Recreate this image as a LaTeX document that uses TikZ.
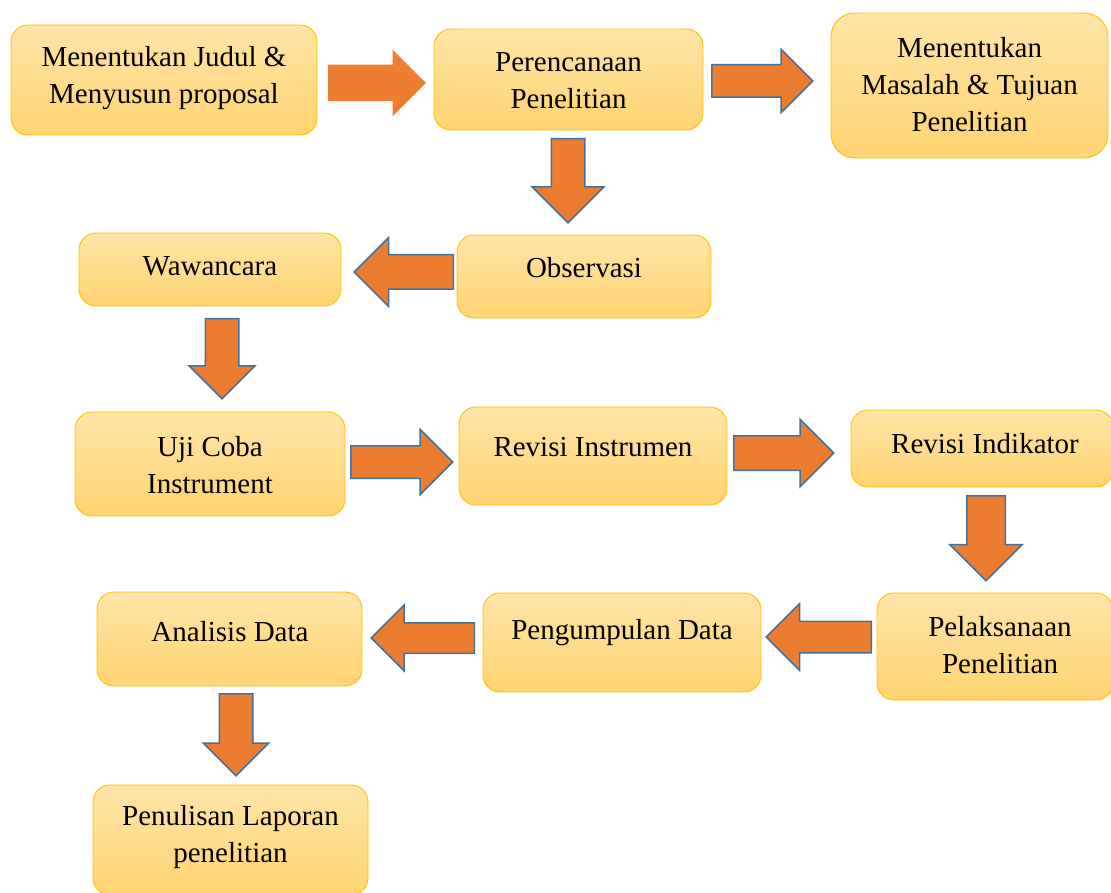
\documentclass[tikz,border=0pt]{standalone}
\usepackage{fontspec}
\setmainfont{Liberation Serif}
\usetikzlibrary{shapes.arrows}

\definecolor{boxline}{RGB}{255,192,0}
\definecolor{boxtop}{RGB}{255,229,168}
\definecolor{boxbot}{RGB}{255,211,112}
\definecolor{arrfill}{RGB}{237,125,49}
\definecolor{arrline}{RGB}{65,113,156}

\tikzset{
  stepbox/.style={draw=boxline, line width=0.9pt, rounded corners=17pt,
    top color=boxtop, bottom color=boxbot, inner sep=0pt},
  steptext/.style={align=center, inner sep=0pt,
    font=\fontsize{29}{37}\selectfont},
  blockarrow/.style={single arrow, fill=arrfill, draw=arrline,
    line width=1.5pt, inner xsep=0pt, anchor=tail}
}

\begin{document}
\begin{tikzpicture}[x=1pt, y=-1pt]
                \useasboundingbox (0,0) rectangle (1111,893);
                % kotak tahapan
                \node[stepbox, minimum width=306pt, minimum height=110pt] (judul) at (164,80) {};
                \node[stepbox, minimum width=269pt, minimum height=101pt] (rencana) at (568.5,79.5) {};
                \node[stepbox, minimum width=277pt, minimum height=145pt, rounded corners=24pt] (masalah) at (969.5,85.5) {};
                \node[stepbox, minimum width=254pt, minimum height=83pt] (observasi) at (584,276.5) {};
                \node[stepbox, minimum width=262pt, minimum height=73pt] (wawancara) at (210,269.5) {};
                \node[stepbox, minimum width=270pt, minimum height=104pt] (ujicoba) at (210,464) {};
                \node[stepbox, minimum width=268pt, minimum height=98pt] (revinst) at (593,456) {};
                \node[stepbox, minimum width=262pt, minimum height=77pt] (revind) at (982,448.5) {};
                \node[stepbox, minimum width=236pt, minimum height=107pt] (pelaksanaan) at (995,646.5) {};
                \node[stepbox, minimum width=278pt, minimum height=99pt] (pengumpulan) at (622,642.5) {};
                \node[stepbox, minimum width=265pt, minimum height=94pt] (analisis) at (229.5,639) {};
                \node[stepbox, minimum width=275pt, minimum height=110pt] (penulisan) at (230.5,840) {};
                % teks
                \node[steptext] (judul-t) at (164,78) {Menentukan Judul \&\\Menyusun proposal};
                \node[steptext] (rencana-t) at (568.5,81) {Perencanaan\\Penelitian};
                \node[steptext] (masalah-t) at (969.5,85) {Menentukan\\Masalah \& Tujuan\\Penelitian};
                \node[steptext] (observasi-t) at (584,268) {Observasi};
                \node[steptext] (wawancara-t) at (210,266) {Wawancara};
                \node[steptext] (ujicoba-t) at (210,465) {Uji Coba\\Instrument};
                \node[steptext] (revinst-t) at (593,447) {Revisi Instrumen};
                \node[steptext] (revind-t) at (985,444) {Revisi Indikator};
                \node[steptext] (pelaksanaan-t) at (1000,645) {Pelaksanaan\\Penelitian};
                \node[steptext] (pengumpulan-t) at (622,633) {Pengumpulan Data};
                \node[steptext] (analisis-t) at (230,632) {Analisis Data};
                \node[steptext] (penulisan-t) at (230.5,837) {Penulisan Laporan\\penelitian};
                % panah blok (dipasang dari ekornya)
                \node[blockarrow, draw=none, minimum height=98pt, inner ysep=17.5pt, single arrow head extend=15pt] (a1) at (327,83) {};
                \node[blockarrow, minimum height=101pt, inner ysep=15.5pt, single arrow head extend=15.5pt] (a2) at (711,81) {};
                \node[blockarrow, rotate=-90, minimum height=84pt, inner ysep=16pt, single arrow head extend=19pt] (a3) at (568,138) {};
                \node[blockarrow, rotate=180, minimum height=99pt, inner ysep=16.5pt, single arrow head extend=17pt] (a4) at (454,272) {};
                \node[blockarrow, rotate=-90, minimum height=80pt, inner ysep=16pt, single arrow head extend=16pt] (a5) at (222,318) {};
                \node[blockarrow, minimum height=102pt, inner ysep=15.5pt, single arrow head extend=16.5pt] (a6) at (350,462) {};
                \node[blockarrow, minimum height=100pt, inner ysep=16.5pt, single arrow head extend=16.5pt] (a7) at (733,453) {};
                \node[blockarrow, rotate=-90, minimum height=85pt, inner ysep=18.5pt, single arrow head extend=17pt] (a8) at (986,495) {};
                \node[blockarrow, rotate=180, minimum height=105pt, inner ysep=15pt, single arrow head extend=17.5pt] (a9) at (872,637) {};
                \node[blockarrow, rotate=180, minimum height=103pt, inner ysep=14.5pt, single arrow head extend=17.5pt] (a10) at (475,638) {};
                \node[blockarrow, rotate=-90, minimum height=82pt, inner ysep=16pt, single arrow head extend=16pt] (a11) at (236,693) {};
\end{tikzpicture}
\end{document}
